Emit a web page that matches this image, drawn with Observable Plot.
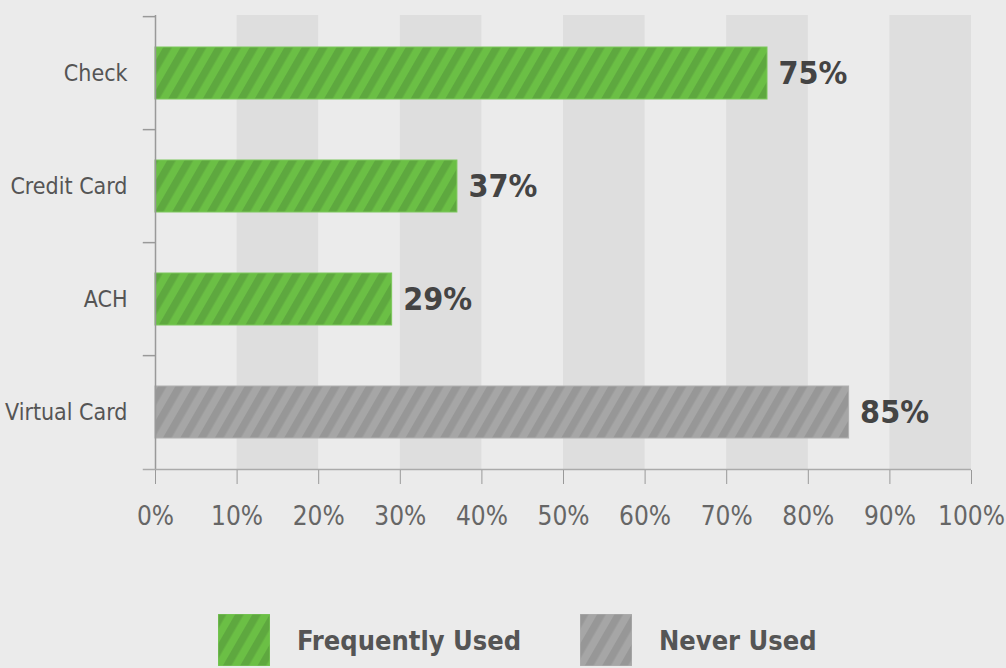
<!DOCTYPE html>
<html><head><meta charset="utf-8">
<script src="https://cdn.jsdelivr.net/npm/d3@7"></script>
<script src="https://cdn.jsdelivr.net/npm/@observablehq/plot@0.6"></script>
<style>
html,body{margin:0;padding:0;background:#ebebeb;}
body{width:1006px;height:668px;overflow:hidden;font-family:"DejaVu Sans Condensed","DejaVu Sans",sans-serif;font-stretch:condensed;}
#chart svg text{font-family:"DejaVu Sans Condensed","DejaVu Sans",sans-serif;font-stretch:condensed;}
#legend{position:relative;height:60px;margin-top:22px;}
.item{position:absolute;top:0;display:flex;align-items:center;}
.item span{font-weight:bold;font-size:27px;color:#555;margin-left:27px;}
</style></head>
<body>
<div id="chart"></div>
<div id="legend"></div>
<script>
const categories = ["Check", "Credit Card", "ACH", "Virtual Card"];
const values = [75, 37, 29, 85];
const groups = ["Frequently Used", "Frequently Used", "Frequently Used", "Never Used"];
const xTicks = [0, 10, 20, 30, 40, 50, 60, 70, 80, 90, 100];
const bandStarts = [10, 30, 50, 70, 90];
const legendItems = ["Frequently Used", "Never Used"];

const patternIds = {"Frequently Used": "stripeGreen", "Never Used": "stripeGray"};
const patternColors = {
  stripeGreen: ["#6bbf45", "#5ea83f"],
  stripeGray: ["#a6a6a6", "#979797"]
};

const data = categories.map((c, i) => ({cat: c, value: values[i], group: groups[i]}));
const step = 455 / 4;

const chart = Plot.plot({
  width: 1006,
  height: 592,
  marginLeft: 155,
  marginRight: 35,
  marginTop: 15,
  marginBottom: 122,
  style: {background: "transparent"},
  x: {domain: [0, 100], ticks: xTicks, tickFormat: d => d + "%", label: null},
  y: {domain: categories, paddingInner: 0.54, paddingOuter: 0.27, label: null},
  marks: [
    Plot.rect(bandStarts, {x1: d => d, x2: d => d + 10, fill: "#dedede"}),
    Plot.barX(data, {x: "value", y: "cat", fill: d => `url(#${patternIds[d.group]})`, stroke: d => d.group === "Never Used" ? "#b0b0b0" : "#7cc85c", strokeWidth: 1}),
    Plot.text(data, {x: "value", y: "cat", text: d => d.value + "%", textAnchor: "start", dx: 11, fontSize: 32, fontWeight: "bold", fill: "#444"}),
    Plot.ruleX([0], {stroke: "#999", strokeWidth: 1.5}),
    Plot.ruleY(categories, {y: d => d, x1: -1.5, x2: 0, dy: -step / 2, stroke: "#999", strokeWidth: 1.5}),
    Plot.ruleY(categories.slice(-1), {y: d => d, x1: -1.5, x2: 100, dy: step / 2, stroke: "#aaa", strokeWidth: 1.5}),
    Plot.axisX({ticks: xTicks, tickFormat: d => d + "%", tickSize: 14, tickPadding: 22, fontSize: 26, color: "#666", stroke: "#999", label: null}),
    Plot.axisY({tickSize: 0, tickPadding: 28, fontSize: 23, color: "#555", label: null})
  ]
});

function addDefs(svg) {
  const defs = d3.select(svg).insert("defs", ":first-child");
  for (const [id, [c1, c2]] of Object.entries(patternColors)) {
    const p = defs.append("pattern").attr("id", id).attr("patternUnits", "userSpaceOnUse")
      .attr("width", 15).attr("height", 15).attr("patternTransform", "rotate(30)");
    p.append("rect").attr("width", 15).attr("height", 15).attr("fill", c1);
    p.append("rect").attr("width", 7.5).attr("height", 15).attr("fill", c2);
  }
}
addDefs(chart);
document.getElementById("chart").appendChild(chart);

const legend = document.getElementById("legend");
const lx = [218, 580];
legendItems.forEach((name, i) => {
  const div = document.createElement("div");
  div.className = "item";
  div.style.left = lx[i] + "px";
  const id = patternIds[name];
  const [c1, c2] = patternColors[id];
  div.innerHTML = `<svg width="52" height="52"><defs><pattern id="lg${i}" patternUnits="userSpaceOnUse" width="15" height="15" patternTransform="rotate(30)"><rect width="15" height="15" fill="${c1}"/><rect width="7.5" height="15" fill="${c2}"/></pattern></defs><rect width="52" height="52" fill="url(#lg${i})" stroke="${i ? '#b0b0b0' : '#7cc85c'}"/></svg><span>${name}</span>`;
  legend.appendChild(div);
});
</script>
</body></html>
